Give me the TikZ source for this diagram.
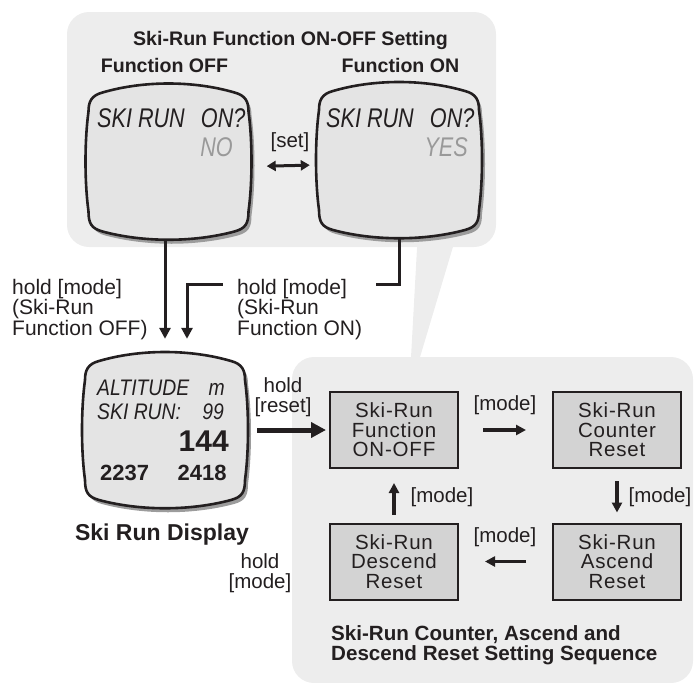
\documentclass[tikz,border=0pt]{standalone}
\usepackage{fontspec}
\usepackage{graphicx}
\setmainfont{Liberation Sans}
\newfontfamily\boxfont[LetterSpace=4]{Liberation Sans}
\usetikzlibrary{arrows.meta,calc}
\definecolor{panelgray}{HTML}{EDEDED}
\definecolor{screenfill}{HTML}{E4E4E4}
\definecolor{boxfill}{HTML}{D3D3D3}
\definecolor{shadowgray}{HTML}{9C9C9C}
\definecolor{lcdgray}{HTML}{999999}
\definecolor{ink}{HTML}{231F20}
\newcommand\cushionshape[1]{\path[#1] (-66,-69) .. controls (-25,-81) and (25,-81) .. (66,-69)
  .. controls (77,-66) and (80,-60) .. (80,-50)
  .. controls (84,-20) and (84,20) .. (80,50)
  .. controls (80,62) and (77,67) .. (66,70)
  .. controls (25,81) and (-25,81) .. (-66,70)
  .. controls (-77,67) and (-80,62) .. (-80,50)
  .. controls (-84,20) and (-84,-20) .. (-80,-50)
  .. controls (-80,-60) and (-77,-66) .. (-66,-69) -- cycle;}
\newcommand\lcdscreen[3]{%
  \node[inner sep=0pt, minimum width=164pt, minimum height=156pt] (#1) at (#2,#3) {};
  \begin{scope}[shift={(#2,#3)}]
    \begin{scope}[shift={(3,4)}]\cushionshape{fill=shadowgray}\end{scope}
    \cushionshape{fill=screenfill, draw=ink, line width=2.6pt}
  \end{scope}}
\begin{document}
\begin{tikzpicture}[x=1pt,y=-1pt, text=ink,
  lbl/.style={inner sep=0pt, align=left, font=\fontsize{21}{19.5}\selectfont},
  ttl/.style={inner sep=0pt, font=\bfseries\fontsize{19.6}{20}\selectfont},
  lcd/.style={inner sep=0pt, font=\itshape\fontsize{27}{27}\selectfont},
  lcdsmall/.style={inner sep=0pt, font=\itshape\fontsize{22.5}{22}\selectfont},
  seqbox/.style={draw=ink, line width=2pt, fill=boxfill, minimum width=128pt, minimum height=76pt, align=center, inner sep=0pt, font=\boxfont\fontsize{20.5}{19.5}\selectfont},
  modelbl/.style={inner sep=0pt, align=center, font=\fontsize{20.5}{20}\selectfont},
  vArrow/.style={draw=ink, line width=3pt, -{Triangle[length=11pt,width=11pt]}},
  bigArrow/.style={draw=ink, line width=5pt, -{Triangle[length=15pt,width=15pt]}},
  mArrow/.style={draw=ink, line width=3.5pt, -{Triangle[length=10pt,width=10pt]}},
  dArrow/.style={draw=ink, line width=3pt, {Triangle[length=9pt,width=10pt]}-{Triangle[length=9pt,width=10pt]}}]
\useasboundingbox (0,0) rectangle (694,683);
% panels
\fill[panelgray, rounded corners=22pt] (67,12) rectangle (496,247);
\fill[panelgray, rounded corners=22pt] (292,357) rectangle (693,683);
\fill[panelgray] (418,230) -- (458,230) -- (409,394) -- cycle;
% titles
\node[ttl] (ttltop) at (290.5,40) {Ski-Run Function ON-OFF Setting};
\node[ttl] (ttloff) at (164.5,65) {Function OFF};
\node[ttl] (ttlon) at (400.5,65) {Function ON};
% screens
\lcdscreen{off}{168.5}{161.5}
\lcdscreen{on}{399}{160}
\lcdscreen{disp}{165}{430}
\node[lcd, anchor=west] (offq) at (97,118) {\scalebox{0.8}[1]{SKI RUN\hspace{0.75em}ON?}};
\node[lcd, anchor=east, text=lcdgray] (offa) at (233,147) {\scalebox{0.8}[1]{NO}};
\node[lcd, anchor=west] (onq) at (326,118) {\scalebox{0.8}[1]{SKI RUN\hspace{0.75em}ON?}};
\node[lcd, anchor=east, text=lcdgray] (ona) at (468,147) {\scalebox{0.8}[1]{YES}};
\node[lcdsmall, anchor=west] (alt) at (97,388) {\scalebox{0.86}[1]{ALTITUDE\hspace{1em}m}};
\node[lcdsmall, anchor=west] (runs) at (97,412) {\scalebox{0.86}[1]{SKI RUN:\hspace{1.1em}99}};
\node[inner sep=0pt, anchor=east, font=\bfseries\fontsize{30}{30}\selectfont] (n144) at (229,441) {144};
\node[inner sep=0pt, anchor=west, font=\bfseries\fontsize{22}{22}\selectfont] (nums) at (100,473) {2237\hspace{1.3em}2418};
% set arrow
\node[modelbl] (set) at (290,142) {[set]};
\draw[dArrow, shorten <=16pt, shorten >=7pt] ([yshift=-5pt]off.east) -- ([yshift=-5pt]on.west);
% arrows down to display
\draw[vArrow, shorten >=13pt] (off.south -| disp.north) -- (disp.north);
\draw[vArrow, shorten >=13pt] (on.south) -- ++(0,46) -| ($(disp.north)+(22,0)$);
\node[lbl, anchor=north west] (lblL) at (12,279) {hold [mode]\\(Ski-Run\\Function OFF)};
\node[lbl, anchor=north west, fill=white, inner xsep=14pt] (lblR) at (223,279) {hold [mode]\\(Ski-Run\\Function ON)};
% display label
\node[inner sep=0pt, font=\bfseries\fontsize{23}{23}\selectfont] (disptitle) at (162,535) {Ski Run Display};
\node[modelbl] (holdmode) at (260,573) {hold\\{}[mode]};
\node[modelbl] (holdreset) at (283,397) {hold\\{}[reset]};
% sequence boxes
\node[seqbox] (fn) at (394,430) {Ski-Run\\Function\\ON-OFF};
\node[seqbox] (cnt) at (617,430) {Ski-Run\\Counter\\Reset};
\node[seqbox] (asc) at (617,561.5) {Ski-Run\\Ascend\\Reset};
\node[seqbox] (dsc) at (394,561.5) {Ski-Run\\Descend\\Reset};
\draw[bigArrow, shorten <=10pt, shorten >=3pt] (disp.east) -- (fn.west);
\draw[mArrow, shorten <=24pt, shorten >=26pt] (fn.east) -- (cnt.west);
\draw[mArrow, shorten <=12pt, shorten >=10pt] (cnt.south) -- (asc.north);
\draw[mArrow, shorten <=26pt, shorten >=26pt] (asc.west) -- (dsc.east);
\draw[mArrow, shorten <=8pt, shorten >=14pt] (dsc.north) -- (fn.south);
\node[modelbl] (m1) at (505,405) {[mode]};
\node[modelbl] (m2) at (660,497) {[mode]};
\node[modelbl] (m3) at (505,537) {[mode]};
\node[modelbl] (m4) at (442,497) {[mode]};
\node[inner sep=0pt, anchor=west, align=left, font=\bfseries\fontsize{20.6}{20}\selectfont] (seqtitle) at (331,645) {Ski-Run Counter, Ascend and\\Descend Reset Setting Sequence};
\end{tikzpicture}
\end{document}
